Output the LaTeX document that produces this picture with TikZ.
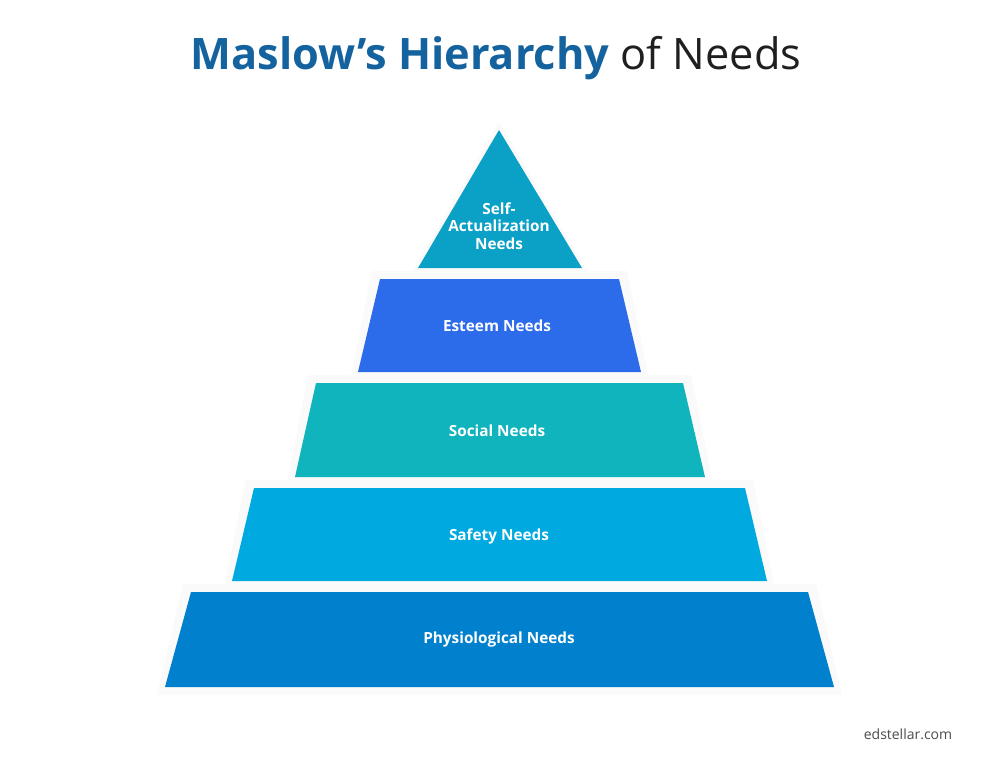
\documentclass[tikz,border=0pt]{standalone}
\usepackage{fontspec}
\setmainfont{Open Sans}
\begin{document}
\begin{tikzpicture}[x=0.75pt,y=-0.75pt,
  lvl/.style={font=\fontsize{11.5}{13}\selectfont\bfseries,text=white,align=center}]
\useasboundingbox[fill=white] (0,0) rectangle (1000,760);
\definecolor{cTop}{HTML}{0BA0C6}
\definecolor{cEst}{HTML}{2C6BEA}
\definecolor{cSoc}{HTML}{10B4BD}
\definecolor{cSaf}{HTML}{00AAE0}
\definecolor{cPhy}{HTML}{0080CD}
\definecolor{cTitle}{HTML}{14639F}
% shadows
\foreach \d in {8,6,4,2}{
\fill[black!2] (499,130-\d) -- (582+\d,268+\d) -- (418-\d,268+\d) -- cycle;
\fill[black!2] (380-\d,279-\d) -- (619+\d,279-\d) -- (641+\d,372+\d) -- (358-\d,372+\d) -- cycle;
\fill[black!2] (316-\d,383-\d) -- (683+\d,383-\d) -- (705+\d,477+\d) -- (295-\d,477+\d) -- cycle;
\fill[black!2] (254-\d,488-\d) -- (745+\d,488-\d) -- (767+\d,581+\d) -- (232-\d,581+\d) -- cycle;
\fill[black!2] (191-\d,592-\d) -- (808+\d,592-\d) -- (834+\d,687+\d) -- (165-\d,687+\d) -- cycle;
}
\fill[cTop] (499,130) -- (582,268) -- (418,268) -- cycle;
\fill[cEst] (380,279) -- (619,279) -- (641,372) -- (358,372) -- cycle;
\fill[cSoc] (316,383) -- (683,383) -- (705,477) -- (295,477) -- cycle;
\fill[cSaf] (254,488) -- (745,488) -- (767,581) -- (232,581) -- cycle;
\fill[cPhy] (191,592) -- (808,592) -- (834,687) -- (165,687) -- cycle;
\node[lvl] (t) at (499,226) {Self-\\Actualization\\Needs};
\node[lvl] (e) at (497,326) {Esteem Needs};
\node[lvl] (s) at (497,431) {Social Needs};
\node[lvl] (f) at (499,536) {Safety Needs};
\node[lvl] (p) at (499,640) {Physiological Needs};
\node (title) at (496,58) {\fontsize{32.5}{36}\selectfont{\bfseries\color{cTitle}Maslow’s Hierarchy} \color{black!88}of Needs};
\node[text=black!70,font=\fontsize{10.5}{12}\selectfont] (w) at (908,734) {edstellar.com};
\end{tikzpicture}
\end{document}
